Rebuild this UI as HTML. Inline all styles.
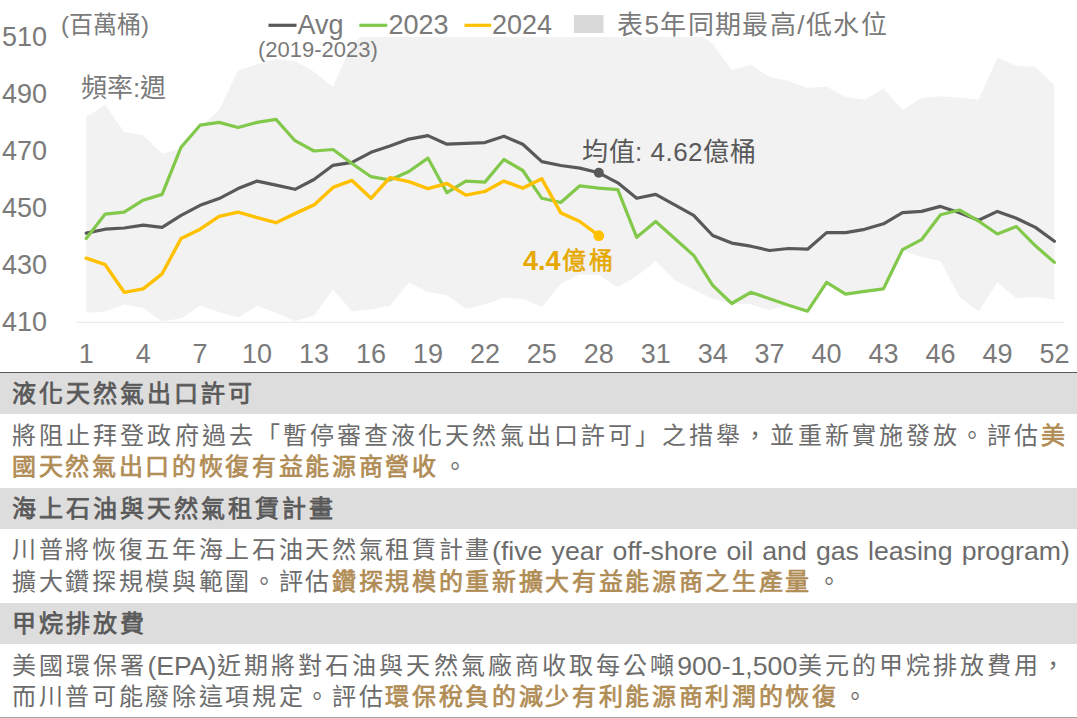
<!DOCTYPE html>
<html lang="zh-TW"><head><meta charset="utf-8">
<style>
html,body{margin:0;padding:0;background:#fff;}
body{width:1077px;height:718px;overflow:hidden;position:relative;font-family:"Liberation Sans",sans-serif;color:#595959;}
.rule{position:absolute;left:0;width:1077px;}
.band{position:absolute;left:0;width:1077px;background:#dddddd;}
.ln{position:absolute;left:12px;width:1056px;font-size:24px;line-height:30px;letter-spacing:2.67px;white-space:nowrap;color:#6c6c6c;}
.ln .lat{font-size:26.67px;letter-spacing:0;position:relative;top:1.5px;}
.hdt{color:#595959;-webkit-text-stroke:0.75px #595959;letter-spacing:3px;}
.j{text-align:justify;text-align-last:justify;}
.ws .lat{word-spacing:1.75px;}
.hl{color:#b08c55;-webkit-text-stroke:0.7px #b08c55;}
</style></head><body>
<svg width="1077" height="372" viewBox="0 0 1077 372" style="position:absolute;left:0;top:0">
<defs><clipPath id="pc"><rect x="0" y="37" width="1077" height="300"/></clipPath></defs>
<polygon points="86.2,117.0 105.2,104.7 124.2,132.1 143.2,135.2 162.1,153.7 181.1,148.4 200.1,127.5 219.1,110.1 238.1,70.6 257.1,64.4 276.0,59.0 295.0,61.3 314.0,71.8 333.0,86.9 352.0,43.0 371.0,30.0 389.9,20.0 408.9,20.0 427.9,20.0 446.9,20.0 465.9,20.0 484.9,20.0 503.9,20.0 522.8,20.0 541.8,20.0 560.8,20.0 579.8,20.0 598.8,20.0 617.8,20.0 636.7,20.0 655.7,20.0 674.7,20.0 693.7,30.2 712.7,43.7 731.7,70.0 750.7,64.8 769.6,77.0 788.6,81.0 807.6,87.9 826.6,86.5 845.6,96.7 864.6,99.8 883.5,88.5 902.5,110.0 921.5,98.1 940.5,96.2 959.5,97.8 978.5,99.8 997.4,57.6 1016.4,65.9 1035.4,66.7 1054.4,85.2 1054.4,299.6 1035.4,296.9 1016.4,298.2 997.4,282.5 978.5,311.2 959.5,296.9 940.5,261.0 921.5,257.0 902.5,250.5 883.5,288.8 864.6,291.3 845.6,294.2 826.6,282.4 807.6,311.2 788.6,305.2 769.6,310.3 750.7,304.3 731.7,303.5 712.7,298.8 693.7,289.5 674.7,280.3 655.7,261.0 636.7,276.3 617.8,287.2 598.8,274.9 579.8,274.5 560.8,283.7 541.8,307.0 522.8,298.8 503.9,297.7 484.9,304.2 465.9,308.8 446.9,295.3 427.9,291.9 408.9,282.6 389.9,305.8 371.0,309.3 352.0,311.6 333.0,289.5 314.0,315.6 295.0,321.3 276.0,312.8 257.1,305.8 238.1,317.4 219.1,312.0 200.1,305.8 181.1,318.6 162.1,321.3 143.2,308.1 124.2,304.6 105.2,311.6 86.2,312.8" fill="#f2f2f2" clip-path="url(#pc)"/>
<line x1="76" y1="322.3" x2="1064" y2="322.3" stroke="#e6e6e6" stroke-width="1.1"/>
<polyline points="86.2,233.1 105.2,229.2 124.2,228.0 143.2,225.2 162.1,227.3 181.1,215.3 200.1,205.3 219.1,198.6 238.1,188.6 257.1,181.1 276.0,185.1 295.0,189.3 314.0,179.5 333.0,165.3 352.0,162.3 371.0,152.3 389.9,146.0 408.9,139.1 427.9,135.6 446.9,144.2 465.9,143.3 484.9,142.6 503.9,136.3 522.8,144.2 541.8,161.6 560.8,165.5 579.8,168.1 598.8,172.8 617.8,182.8 636.7,198.3 655.7,194.4 674.7,204.8 693.7,215.3 712.7,235.5 731.7,243.1 750.7,246.2 769.6,250.5 788.6,248.5 807.6,249.2 826.6,232.6 845.6,232.6 864.6,229.3 883.5,223.8 902.5,212.7 921.5,211.4 940.5,206.4 959.5,212.7 978.5,220.2 997.4,211.4 1016.4,218.3 1035.4,227.4 1054.4,241.2" fill="none" stroke="#595959" stroke-width="3.2" stroke-linejoin="round" stroke-linecap="round"/>
<polyline points="86.2,238.5 105.2,214.1 124.2,212.2 143.2,200.2 162.1,194.4 181.1,147.2 200.1,125.2 219.1,122.4 238.1,127.5 257.1,122.4 276.0,119.4 295.0,140.7 314.0,151.0 333.0,149.5 352.0,163.5 371.0,176.7 389.9,180.0 408.9,171.5 427.9,158.1 446.9,192.7 465.9,181.1 484.9,182.1 503.9,159.5 522.8,170.5 541.8,198.3 560.8,202.5 579.8,185.8 598.8,188.1 617.8,189.7 636.7,237.3 655.7,221.5 674.7,238.5 693.7,255.4 712.7,285.4 731.7,303.5 750.7,292.3 769.6,298.7 788.6,305.2 807.6,311.2 826.6,282.4 845.6,294.2 864.6,291.3 883.5,288.8 902.5,249.7 921.5,239.7 940.5,214.7 959.5,210.0 978.5,221.0 997.4,234.0 1016.4,226.5 1035.4,245.8 1054.4,262.4" fill="none" stroke="#82c84a" stroke-width="3.2" stroke-linejoin="round" stroke-linecap="round"/>
<polyline points="86.2,258.2 105.2,264.7 124.2,292.3 143.2,288.8 162.1,273.8 181.1,238.5 200.1,229.2 219.1,216.4 238.1,212.2 257.1,217.6 276.0,222.7 295.0,213.6 314.0,204.9 333.0,187.4 352.0,180.4 371.0,198.3 389.9,177.7 408.9,181.6 427.9,188.6 446.9,183.5 465.9,195.1 484.9,191.4 503.9,181.1 522.8,188.1 541.8,178.8 560.8,212.9 579.8,221.5 598.8,235.7" fill="none" stroke="#ffc000" stroke-width="3.4" stroke-linejoin="round" stroke-linecap="round"/>
<circle cx="598.8" cy="172.8" r="5" fill="#595959"/>
<circle cx="598.8" cy="235.7" r="5.4" fill="#ffc000"/>
<g font-family="Liberation Sans, sans-serif" font-size="27" fill="#7a7a7a"><text x="86.2" y="363" text-anchor="middle">1</text><text x="143.2" y="363" text-anchor="middle">4</text><text x="200.1" y="363" text-anchor="middle">7</text><text x="257.1" y="363" text-anchor="middle">10</text><text x="314.0" y="363" text-anchor="middle">13</text><text x="371.0" y="363" text-anchor="middle">16</text><text x="427.9" y="363" text-anchor="middle">19</text><text x="484.9" y="363" text-anchor="middle">22</text><text x="541.8" y="363" text-anchor="middle">25</text><text x="598.8" y="363" text-anchor="middle">28</text><text x="655.7" y="363" text-anchor="middle">31</text><text x="712.7" y="363" text-anchor="middle">34</text><text x="769.6" y="363" text-anchor="middle">37</text><text x="826.6" y="363" text-anchor="middle">40</text><text x="883.5" y="363" text-anchor="middle">43</text><text x="940.5" y="363" text-anchor="middle">46</text><text x="997.4" y="363" text-anchor="middle">49</text><text x="1054.4" y="363" text-anchor="middle">52</text><text x="47" y="330.8" text-anchor="end">410</text><text x="47" y="273.7" text-anchor="end">430</text><text x="47" y="216.7" text-anchor="end">450</text><text x="47" y="159.6" text-anchor="end">470</text><text x="47" y="102.6" text-anchor="end">490</text><text x="47" y="45.5" text-anchor="end">510</text></g>
<g font-family="Liberation Sans, sans-serif" fill="#7a7a7a">
<line x1="268.5" y1="25.3" x2="296.5" y2="25.3" stroke="#595959" stroke-width="3.2"/>
<text x="297.5" y="33.5" font-size="27">Avg</text>
<line x1="359.3" y1="25.3" x2="387.3" y2="25.3" stroke="#82c84a" stroke-width="3.2"/>
<text x="388.5" y="33.5" font-size="27">2023</text>
<line x1="464.5" y1="25.3" x2="491.2" y2="25.3" stroke="#ffc000" stroke-width="3.2"/>
<text x="492" y="33.5" font-size="27">2024</text>
<rect x="574" y="15" width="29.5" height="18" fill="#d9d9d9"/>
<text x="617" y="34" font-size="26" letter-spacing="1.4">表5年同期最高/低水位</text>
<text x="258" y="56.5" font-size="22">(2019-2023)</text>
<text x="61" y="33" font-size="24">(百萬桶)</text>
<text x="81" y="97" font-size="26">頻率:週</text>
</g>
<text x="582" y="161" font-family="Liberation Sans, sans-serif" font-size="26" letter-spacing="0.5" fill="#595959">均值: 4.62億桶</text>
<text x="523" y="270" font-family="Liberation Sans, sans-serif" fill="#e6a800"><tspan font-size="27" font-weight="bold" letter-spacing="0">4.4</tspan><tspan font-size="24" dx="1.5" dy="-0.8" letter-spacing="3" stroke="#e6a800" stroke-width="0.55">億桶</tspan></text>
</svg>
<div class="rule" style="top:371.5px;height:1.3px;background:#595959"></div>
<div class="band" style="top:373px;height:40.7px"></div>
<div class="band" style="top:488px;height:40.8px"></div>
<div class="band" style="top:603px;height:40.9px"></div>
<div class="rule" style="top:717px;height:1px;background:#a6a6a6"></div>
<div class="ln hdt" style="top:378.5px">液化天然氣出口許可</div>
<div class="ln j" style="top:421.2px">將阻止拜登政府過去「暫停審查液化天然氣出口許可」之措舉，並重新實施發放。評估<span class="hl">美</span></div>
<div class="ln" style="top:452.0px"><span class="hl">國天然氣出口的恢復有益能源商營收</span><span style="margin-left:4.5px">。</span></div>
<div class="ln hdt" style="top:493.5px">海上石油與天然氣租賃計畫</div>
<div class="ln ws" style="top:534.0px">川普將恢復五年海上石油天然氣租賃計畫<span class="lat">(five year off-shore oil and gas leasing program)</span></div>
<div class="ln" style="top:567.4px">擴大鑽探規模與範圍。評估<span class="hl">鑽探規模的重新擴大有益能源商之生產量</span><span style="margin-left:4.5px">。</span></div>
<div class="ln hdt" style="top:608.6px">甲烷排放費</div>
<div class="ln j" style="top:649.5px">美國環保署<span class="lat">(EPA)</span>近期將對石油與天然氣廠商收取每公噸<span class="lat">900-1,500</span>美元的甲烷排放費用，</div>
<div class="ln" style="top:681.5px">而川普可能廢除這項規定。評估<span class="hl">環保稅負的減少有利能源商利潤的恢復</span><span style="margin-left:4.5px">。</span></div>

</body></html>
